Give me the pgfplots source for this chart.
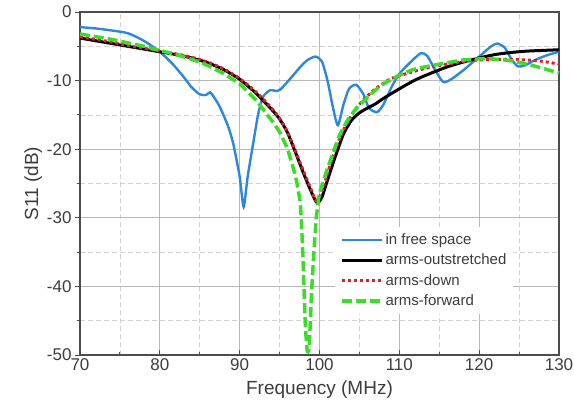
\documentclass[border=0pt]{standalone}
\usepackage{fontspec}
\setmainfont{Liberation Sans}
\usepackage{pgfplots}
\pgfplotsset{compat=1.18}

\definecolor{cblue}{RGB}{45,135,225}
\definecolor{cred}{RGB}{220,30,45}
\definecolor{cgreen}{RGB}{60,220,40}
\definecolor{ctext}{RGB}{60,60,60}

\begin{document}
\begin{tikzpicture}
\begin{axis}[
  scale only axis,
  width=479pt, height=343pt,
  xmin=70, xmax=130, ymin=-50, ymax=0,
  xtick={70,80,...,130}, ytick={-50,-40,...,0},
  minor tick num=1,
  grid=both,
  major grid style={gray!55, line width=0.9pt},
  minor grid style={gray!35, dash pattern=on 5pt off 3pt, line width=0.8pt},
  axis line style={gray!60!black, line width=1.4pt},
  tick style={gray!60!black, line width=1pt},
  major tick length=5pt, minor tick length=3pt,
  tick pos=left,
  xtick align=inside, ytick align=outside,
  /pgf/number format/assume math mode=true,
  tick label style={font=\fontsize{17}{20}\selectfont, text=ctext},
  xlabel={Frequency (MHz)}, ylabel={S11 (dB)},
  label style={font=\fontsize{19}{22}\selectfont, text=ctext},
  xlabel style={yshift=-3pt},
  ylabel style={yshift=-2pt},
  clip=false,
  legend cell align=left,
  legend style={at={(0.532,0.375)}, anchor=north west, draw=none, fill=white,
    font=\fontsize{15}{18}\selectfont, text=ctext, inner xsep=5pt, inner ysep=5pt,
    row sep=4pt},
  legend image code/.code={\draw[#1] (0pt,0pt) -- (40pt,0pt);},
]
\addplot[cblue, line width=2.4pt, smooth, tension=0.4] coordinates {
(70,-2.2) (72,-2.4) (74,-2.7) (76,-3.1) (78,-4.2) (80,-5.8) (81.7,-7.7) (83,-9.5)
(84,-11.0) (85,-12.0) (85.8,-12.1) (86.3,-11.7) (87,-12.8) (87.5,-13.8) (88.5,-16.5)
(89.2,-19.2) (90,-24) (90.5,-28.4) (91,-24) (91.7,-19.1) (92.3,-15) (92.9,-12.4)
(93.8,-11.4) (94.5,-11.5) (95.1,-11.3) (96.5,-9.5) (97.6,-8.0) (98.5,-7.0) (99.5,-6.5)
(100.3,-7.2) (101,-10) (101.7,-14) (102.3,-16.5) (103,-13.5) (103.7,-11.2) (104.6,-10.6)
(105.5,-12) (106.2,-14) (107.2,-14.6) (108,-13.5) (109,-11) (110,-9) (111.5,-7.2)
(112.7,-6.0) (113.5,-6.4) (114.5,-8.5) (115.5,-10.2) (116.5,-9.8) (118,-8.5) (120,-6.5)
(121.5,-5.0) (122.3,-4.6) (123.2,-5.2) (124,-6.8) (124.8,-7.9) (125.7,-7.8) (127,-7.0)
(128.5,-6.3) (130,-5.8)
};
\addlegendentry{in free space}
\addplot[black, line width=3pt, smooth, tension=0.4] coordinates {
(70,-3.8) (72,-4.2) (74,-4.6) (76,-5.0) (78,-5.4) (80,-5.8) (82,-6.2) (84,-6.7)
(86,-7.4) (88,-8.4) (90,-9.8) (92,-11.8) (94,-14.2) (95,-15.6) (96,-17.6) (97,-20.5)
(98,-23.5) (99,-26.3) (99.7,-27.8) (100.3,-27.0) (101,-24.5) (102,-21.0) (103,-17.8)
(104,-15.8) (105,-14.7) (106,-14.0) (107,-13.4) (108,-12.6) (110,-11.2) (112,-9.9)
(114,-8.9) (116,-8.0) (118,-7.3) (120,-6.7) (122,-6.2) (124,-5.9) (126,-5.7)
(128,-5.6) (130,-5.5)
};
\addlegendentry{arms-outstretched}
\addplot[cred, line width=3pt, dash pattern=on 3pt off 3pt, smooth, tension=0.4] coordinates {
(70,-3.6) (72,-4.0) (74,-4.4) (76,-4.9) (78,-5.3) (80,-5.7) (82,-6.1) (84,-6.6)
(86,-7.3) (88,-8.3) (90,-9.7) (92,-11.6) (94,-14.0) (95,-15.5) (96,-17.5) (97,-20.3)
(98,-23.2) (99,-26.0) (99.5,-27.5) (100.2,-26.5) (101,-23.5) (101.7,-21) (102.5,-18.5)
(103.4,-16.3) (104.5,-14.2) (105.5,-12.8) (107,-11.2) (108.8,-9.8) (110,-9.3)
(112,-8.6) (114,-8.0) (116,-7.6) (118,-7.2) (120,-7.0) (122,-6.9) (124,-6.9)
(126,-7.0) (128,-7.2) (130,-7.6)
};
\addlegendentry{arms-down}
\addplot[cgreen, line width=3.5pt, dash pattern=on 10pt off 4pt, smooth, tension=0.3] coordinates {
(70,-3.2) (72,-3.6) (74,-4.0) (76,-4.5) (78,-5.0) (80,-5.6) (82,-6.2) (84,-6.9)
(86,-7.8) (88,-9.0) (90,-10.5) (92,-12.8) (93,-14.3) (94,-15.8) (95,-17.5) (96,-20.0)
(97,-24) (97.6,-28) (97.9,-35) (98.2,-45) (98.45,-49.3) (98.7,-49) (99.0,-41)
(99.3,-35) (99.6,-30) (100,-26.5) (100.8,-23.5) (101.7,-20.5) (102.5,-18)
(103.4,-16) (104.5,-14.2) (105.5,-13) (107.6,-10.8) (110,-9.2) (112,-8.3) (115,-7.6)
(118,-7.0) (121,-6.8) (124,-7.1) (127,-7.9) (130,-8.9)
};
\addlegendentry{arms-forward}
\coordinate (bl) at (rel axis cs:-0.167,-0.160);
\coordinate (tr) at (rel axis cs:1.0313,1.035);
\end{axis}
\pgfresetboundingbox
\useasboundingbox (bl) rectangle (tr);
\end{tikzpicture}
\end{document}
